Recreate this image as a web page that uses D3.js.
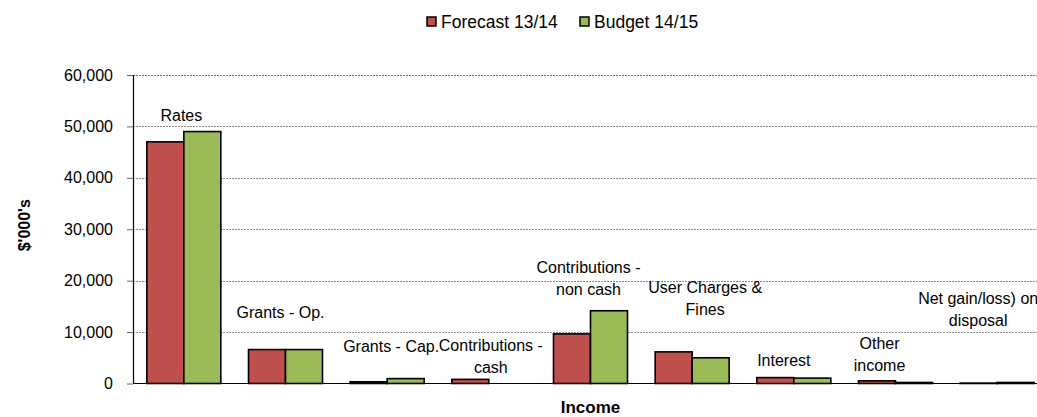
<!DOCTYPE html>
<html>
<head>
<meta charset="utf-8">
<script src="https://cdn.jsdelivr.net/npm/d3@7"></script>
<style>
	body { margin: 0; background: #fff; }
	svg { display: block; font-family: "Liberation Sans", Arial, sans-serif; }
</style>
</head>
<body>
<div id="chart"></div>
<script>
/* chart values, $'000s */
const categories = ["Rates", "Grants - Op.", "Grants - Cap.", "Contributions - cash",
	"Contributions - non cash", "User Charges & Fines", "Interest", "Other income",
	"Net gain/loss) on disposal"];
const labelLines = [["Rates"], ["Grants - Op."], ["Grants - Cap."], ["Contributions -", "cash"],
	["Contributions -", "non cash"], ["User Charges &", "Fines"], ["Interest"], ["Other", "income"],
	["Net gain/loss) on", "disposal"]];
const seriesNames = ["Forecast 13/14", "Budget 14/15"];
const forecast = [47000, 6600, 330, 800, 9650, 6150, 1150, 520, 80];
const budget = [49000, 6600, 950, 0, 14150, 5000, 1050, 200, 200];
const yTicks = [0, 10000, 20000, 30000, 40000, 50000, 60000];

/* where the category labels sit (value of the last line, and a small nudge) */
const labelAt = [52200, 13800, 7200, 3100, 18250, 14400, 4450, 3500, 12250];
const labelNudge = [-2.5, -5, 4, 2, -2, 13, -10, -16, -19];

const colors = ["#C0504D", "#9BBB59"];
const width = 1037, height = 417;
const margin = { top: 75, left: 133, bottom: 33 };
const plotRight = 1048; // the original plot runs a little past the right edge

const svg = d3.select("#chart").append("svg")
	.attr("width", width)
	.attr("height", height);

const y = d3.scaleLinear().domain([0, 60000]).range([height - margin.bottom - 0.5, margin.top]);
const x0 = d3.scaleBand().domain(categories).range([margin.left, plotRight]).padding(0);
const x1 = d3.scaleBand().domain(seriesNames).range([0, x0.bandwidth()]).paddingInner(0).paddingOuter(0.374);

/* gridlines */
svg.append("g")
	.attr("class", "grid")
	.selectAll("line")
	.data(yTicks.filter(d => d > 0))
	.enter()
	.append("line")
		.attr("x1", margin.left)
		.attr("x2", plotRight)
		.attr("y1", d => Math.round(y(d)) + 0.5)
		.attr("y2", d => Math.round(y(d)) + 0.5)
		.style("stroke", d => d === 60000 ? "#707070" : "#8a8a8a")
		.style("stroke-width", 1)
		.style("stroke-dasharray", "2,1");

/* bars */
const rows = categories.map((c, i) => ({ cat: c, values: [forecast[i], budget[i]] }));

const groups = svg.append("g")
	.attr("class", "bars")
	.selectAll("g")
	.data(rows)
	.enter()
	.append("g")
		.attr("transform", d => `translate(${x0(d.cat)},0)`);

groups.selectAll("rect")
	.data(d => d.values.map((v, k) => ({ series: seriesNames[k], value: v, k: k })))
	.enter()
	.filter(d => d.value > 0)
	.append("rect")
		.attr("x", d => x1(d.series))
		.attr("y", d => y(d.value))
		.attr("width", x1.bandwidth())
		.attr("height", d => y(0) - y(d.value))
		.attr("fill", d => colors[d.k])
		.style("stroke", "#000")
		.style("stroke-width", 1.6);

/* y axis */
const yAxis = svg.append("g")
	.attr("transform", `translate(${margin.left},0)`)
	.call(d3.axisLeft(y).tickValues(yTicks).tickSize(6).tickPadding(14).tickFormat(d3.format(",")));
yAxis.select(".domain").remove();
yAxis.selectAll(".tick line").style("stroke", "#666");
yAxis.selectAll("text")
	.style("font-size", "16px")
	.style("fill", "#000")
	.style("font-family", "\"Liberation Sans\", Arial, sans-serif");
svg.append("line")
	.attr("x1", margin.left + 0.5).attr("x2", margin.left + 0.5)
	.attr("y1", y(60000)).attr("y2", y(0))
	.style("stroke", "#000").style("stroke-width", 1.2);

/* baseline */
svg.append("line")
	.attr("x1", margin.left).attr("x2", plotRight)
	.attr("y1", y(0)).attr("y2", y(0))
	.style("stroke", "#000").style("stroke-width", 1.2);

/* category labels above the bars */
const lbl = svg.append("g")
	.attr("class", "cat-labels")
	.selectAll("text")
	.data(rows)
	.enter()
	.append("text")
		.attr("text-anchor", "middle")
		.style("font-size", "16px")
		.attr("fill", "#000");

lbl.each(function(d, i) {
	const lines = labelLines[i];
	const cx = x0(d.cat) + x0.bandwidth() / 2 + labelNudge[i];
	const lastY = y(labelAt[i]);
	d3.select(this).selectAll("tspan")
		.data(lines)
		.enter()
		.append("tspan")
			.attr("x", cx)
			.attr("y", (t, j) => lastY - (lines.length - 1 - j) * 22)
			.attr("dy", "0.35em")
			.text(t => t);
});

/* axis titles */
svg.append("text")
	.attr("transform", `translate(30,${(y(0) + y(60000)) / 2 - 4}) rotate(-90)`)
	.attr("text-anchor", "middle")
	.style("font-size", "16px")
	.style("font-weight", "bold")
	.text("$'000's");

svg.append("text")
	.attr("x", (margin.left + plotRight) / 2)
	.attr("y", 413)
	.attr("text-anchor", "middle")
	.style("font-size", "17px")
	.style("font-weight", "bold")
	.text("Income");

/* legend */
const legendX = [427, 580];
const legend = svg.append("g")
	.attr("class", "legend")
	.selectAll("g")
	.data(seriesNames)
	.enter()
	.append("g")
		.attr("transform", (d, i) => `translate(${legendX[i]},17)`);

legend.append("rect")
	.attr("width", 9).attr("height", 9)
	.attr("fill", (d, i) => colors[i])
	.style("stroke", "#000")
	.style("stroke-width", 1.5);

legend.append("text")
	.attr("x", 14)
	.attr("y", 4.5)
	.attr("dy", "0.35em")
	.style("font-size", "17.5px")
	.text(d => d);
</script>
</body>
</html>
